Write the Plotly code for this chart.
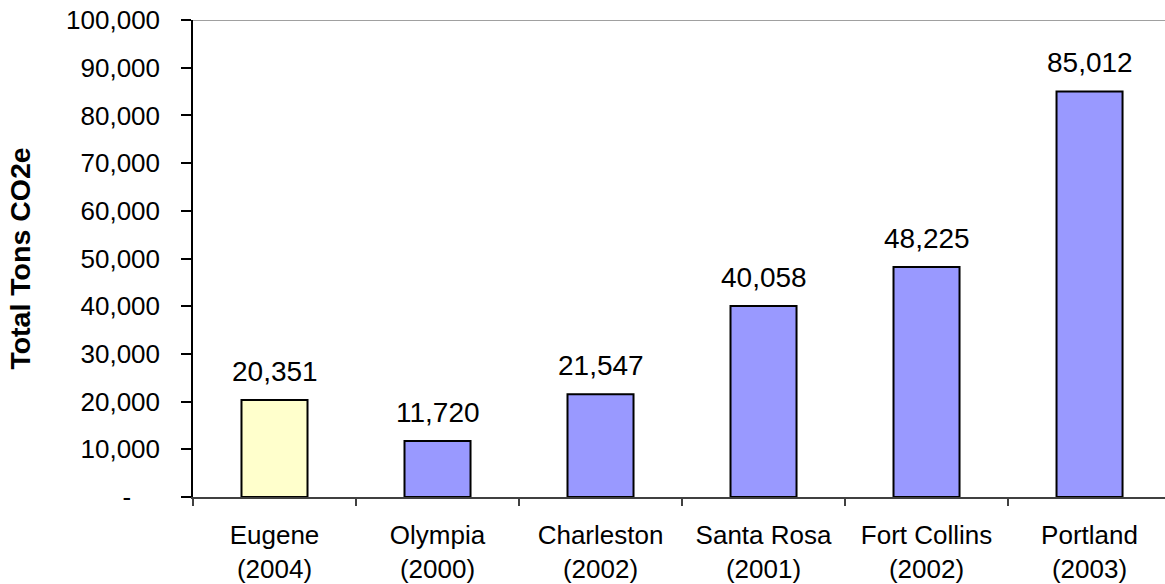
import plotly.graph_objects as go

categories = ["Eugene<br>(2004)", "Olympia<br>(2000)", "Charleston<br>(2002)",
              "Santa Rosa<br>(2001)", "Fort Collins<br>(2002)", "Portland<br>(2003)"]
values = [20351, 11720, 21547, 40058, 48225, 85012]
bar_colors = ["#FFFFCC", "#9999FF", "#9999FF", "#9999FF", "#9999FF", "#9999FF"]
ytick_vals = [0, 10000, 20000, 30000, 40000, 50000, 60000, 70000, 80000, 90000, 100000]
ytick_text = ["-&nbsp;&nbsp;&nbsp;&nbsp;", "10,000", "20,000", "30,000", "40,000", "50,000",
              "60,000", "70,000", "80,000", "90,000", "100,000"]

font_family = "Liberation Sans, Arial, sans-serif"

fig = go.Figure()
fig.add_trace(go.Bar(
    x=categories, y=values,
    marker=dict(color=bar_colors, line=dict(color="black", width=2)),
    width=0.405,
))

for c, v in zip(categories, values):
    fig.add_annotation(x=c, y=v, text=f"{v:,}", showarrow=False,
                       yanchor="bottom", yshift=11,
                       font=dict(family=font_family, size=28, color="black"))

fig.add_shape(type="line", xref="paper", yref="y", x0=0, x1=1, y0=100000, y1=100000,
              line=dict(color="#808080", width=1.5))

fig.update_layout(
    width=1165, height=584,
    margin=dict(l=193, r=0, t=20, b=87),
    paper_bgcolor="white", plot_bgcolor="white",
    showlegend=False,
    font=dict(family=font_family, size=26, color="black"),
    xaxis=dict(
        type="category", range=[-0.5, 5.463],
        showline=True, linecolor="#404040", linewidth=2,
        ticks="outside", tickson="boundaries", ticklen=7, tickcolor="#404040", tickwidth=1.5,
        showgrid=False, tickfont=dict(size=26), ticklabelstandoff=14,
    ),
    yaxis=dict(
        range=[0, 100000], tickvals=ytick_vals, ticktext=ytick_text,
        showline=True, linecolor="black", linewidth=1.5,
        ticks="outside", ticklen=10, tickcolor="black", tickwidth=1.5,
        showgrid=False, zeroline=False, tickfont=dict(size=26),
        ticklabelstandoff=16,
        title=dict(text="<b>Total Tons CO2e</b>", font=dict(size=28.5), standoff=27),
    ),
)

fig.write_html("out.html")
